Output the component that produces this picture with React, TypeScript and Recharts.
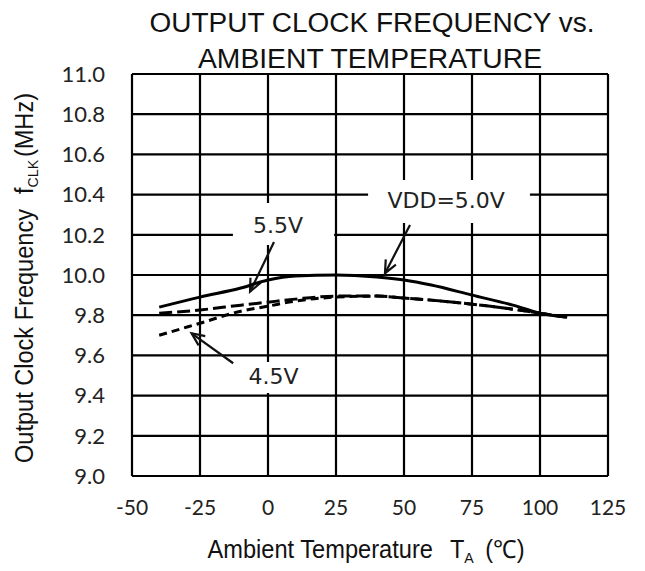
import { LineChart, Line, XAxis, YAxis, CartesianGrid, ReferenceArea, ReferenceLine, ReferenceDot, Label } from 'recharts'

// ambient temperature (°C) and output clock frequency (MHz) per supply voltage
const temps = [-40, -25, -10, 0, 10, 25, 40, 50, 60, 75, 90, 100, 110]
const vdd50 = [9.84, 9.89, 9.935, 9.975, 9.995, 10.0, 9.99, 9.975, 9.95, 9.9, 9.85, 9.81, 9.79]
const vdd55 = [9.81, 9.826, 9.85, 9.865, 9.88, 9.895, 9.895, 9.885, 9.875, 9.855, 9.83, 9.81, 9.79]
const vdd45 = [9.7, 9.76, 9.82, 9.845, 9.87, 9.89, 9.895, 9.885, 9.875, 9.855, 9.83, 9.81, 9.79]

const xTicks = [-50, -25, 0, 25, 50, 75, 100, 125]
const yTicks = [9.0, 9.2, 9.4, 9.6, 9.8, 10.0, 10.2, 10.4, 10.6, 10.8, 11.0]

const noteTexts = ['VDD=5.0V', '5.5V', '4.5V']

const data = temps.map((t, i) => ({ t, v50: vdd50[i], v55: vdd55[i], v45: vdd45[i] }))

// annotation boxes / text anchors / arrows, in data units
const notes = [
  { box: [36.8, 96.3, 10.259, 10.473], at: [65.5, 10.37], arrow: [[52.2, 10.249], [43.0, 10.008]] },
  { box: [-12.9, 24.3, 10.149, 10.358], at: [3.7, 10.249], arrow: [[2.2, 10.164], [-6.6, 9.917]] },
  { box: [-10.3, 14.0, 9.413, 9.567], at: [2.0, 9.497], arrow: [[-12.8, 9.561], [-28.1, 9.71]] }
]

const INK = '#111'
const sans = '"Liberation Sans", Arial, sans-serif'

const arrowShape = (p: any) => {
  const { x1, y1, x2, y2 } = p
  const a = Math.atan2(y2 - y1, x2 - x1)
  const len = 14
  const spread = 0.42
  const ax = x2 - len * Math.cos(a - spread)
  const ay = y2 - len * Math.sin(a - spread)
  const bx = x2 - len * Math.cos(a + spread)
  const by = y2 - len * Math.sin(a + spread)
  return (
    <g>
      <line x1={x1} y1={y1} x2={x2} y2={y2} stroke={INK} strokeWidth={2.2} />
      <polyline points={`${ax},${ay} ${x2},${y2} ${bx},${by}`} fill='none' stroke={INK} strokeWidth={2.2} />
    </g>
  )
}

const renderYLabel = () => (
  <text
    x={33}
    y={278}
    transform='rotate(-90 33 278)'
    textAnchor='middle'
    fontFamily={sans}
    fontSize={25}
    fill={INK}
    textLength={370}
    lengthAdjust='spacingAndGlyphs'
  >
    Output Clock Frequency
    <tspan dx={16}>f</tspan>
    <tspan fontSize={15} dy={5}>CLK</tspan>
    <tspan dx={3} dy={-5}>(MHz)</tspan>
  </text>
)

const renderXLabel = () => (
  <text
    x={366}
    y={558}
    textAnchor='middle'
    fontFamily={sans}
    fontSize={25}
    fill={INK}
    textLength={317}
    lengthAdjust='spacingAndGlyphs'
  >
    Ambient Temperature
    <tspan dx={18}>T</tspan>
    <tspan fontSize={15} dy={5}>A</tspan>
    <tspan dx={12} dy={-5}>(℃)</tspan>
  </text>
)

export default function App() {
  return (
    <div style={{ position: 'absolute', left: 0, top: 0, width: 645, height: 571, background: '#fff' }}>
      <LineChart width={645} height={571} data={data} margin={{ top: 74, right: 37, bottom: 0, left: 0 }}>
        <CartesianGrid stroke='#000' strokeWidth={2.2} strokeOpacity={1} />
        <XAxis
          type='number'
          dataKey='t'
          domain={[-50, 125]}
          ticks={xTicks}
          interval={0}
          axisLine={false}
          tickLine={false}
          tickSize={6}
          tickMargin={18}
          tick={{ fontSize: 21, fontFamily: 'Lato, "Open Sans", sans-serif', fill: '#222' }}
          height={95}
        >
          <Label content={renderXLabel} />
        </XAxis>
        <YAxis
          type='number'
          domain={[9, 11]}
          ticks={yTicks}
          interval={0}
          tickFormatter={(v: number) => v.toFixed(1)}
          axisLine={false}
          tickLine={false}
          tickSize={6}
          tickMargin={21}
          width={132}
          tick={{ fontSize: 22, fontFamily: 'Lato, "Open Sans", sans-serif', fill: '#222' }}
        >
          <Label content={renderYLabel} />
        </YAxis>
        {notes.map((n, i) => (
          <ReferenceArea
            key={`box-${i}`}
            x1={n.box[0]}
            x2={n.box[1]}
            y1={n.box[2]}
            y2={n.box[3]}
            fill='#fff'
            fillOpacity={1}
            stroke='none'
          />
        ))}
        {notes.map((n, i) => (
          <ReferenceDot
            key={`txt-${i}`}
            x={n.at[0]}
            y={n.at[1]}
            r={0}
            stroke='none'
            fill='none'
            label={{ value: noteTexts[i], position: 'center', fontSize: 22, fontFamily: '"DejaVu Sans", sans-serif', fill: '#222' }}
          />
        ))}
        {notes.map((n, i) => (
          <ReferenceLine
            key={`arr-${i}`}
            segment={[{ x: n.arrow[0][0], y: n.arrow[0][1] }, { x: n.arrow[1][0], y: n.arrow[1][1] }]}
            shape={arrowShape}
          />
        ))}
        <Line type='monotone' dataKey='v50' stroke='#000' strokeWidth={3} dot={false} isAnimationActive={false} />
        <Line type='monotone' dataKey='v55' stroke='#000' strokeWidth={3} strokeDasharray='13 5' dot={false} isAnimationActive={false} />
        <Line type='monotone' dataKey='v45' stroke='#000' strokeWidth={3} strokeDasharray='8 5' dot={false} isAnimationActive={false} />
      </LineChart>
      <svg width={645} height={80} style={{ position: 'absolute', left: 0, top: 0, pointerEvents: 'none' }}>
        <text x={372} y={32} textAnchor='middle' fontFamily={sans} fontSize={27} fill={INK} textLength={445} lengthAdjust='spacingAndGlyphs'>
          OUTPUT CLOCK FREQUENCY vs.
        </text>
        <text x={370} y={68} textAnchor='middle' fontFamily={sans} fontSize={27} fill={INK} textLength={344} lengthAdjust='spacingAndGlyphs'>
          AMBIENT TEMPERATURE
        </text>
      </svg>
    </div>
  )
}
